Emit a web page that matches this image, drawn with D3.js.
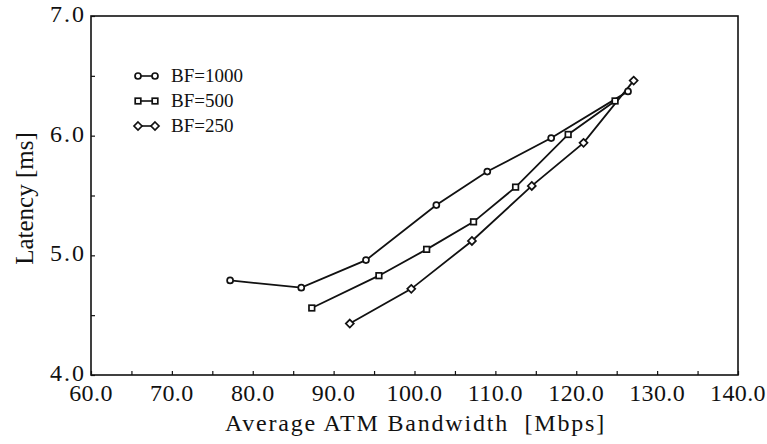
<!DOCTYPE html>
<html>
<head>
<meta charset="utf-8">
<script src="https://cdn.jsdelivr.net/npm/d3@7"></script>
<style>
  html, body { margin: 0; padding: 0; background: #fff; }
  svg { display: block; }
</style>
</head>
<body>
<svg id="chart" width="767" height="444"></svg>
<script>
// Average ATM bandwidth (Mbps) vs latency (ms) for three BF settings
const bf1000Bandwidth = [77.2, 86.0, 94.0, 102.7, 109.0, 116.9, 126.4];
const bf1000Latency   = [4.79, 4.73, 4.96, 5.42, 5.70, 5.98, 6.37];
const bf500Bandwidth  = [87.3, 95.6, 101.5, 107.3, 112.5, 119.0, 124.8];
const bf500Latency    = [4.56, 4.83, 5.05, 5.28, 5.57, 6.01, 6.29];
const bf250Bandwidth  = [92.0, 99.6, 107.1, 114.5, 120.9, 127.1];
const bf250Latency    = [4.43, 4.72, 5.12, 5.58, 5.94, 6.46];

const seriesNames = ["BF=1000", "BF=500", "BF=250"];
const seriesMarkers = ["circle", "square", "diamond"];

const xTickValues = [60, 70, 80, 90, 100, 110, 120, 130, 140];
const yTickValues = [4, 5, 6, 7];
const xMinorTicks = d3.range(60, 140.01, 5);
const yMinorTicks = d3.range(4, 7.01, 0.5);

const xTitle = "Average ATM Bandwidth  [Mbps]";
const yTitle = "Latency [ms]";

const series = [
  { name: seriesNames[0], marker: seriesMarkers[0], xs: bf1000Bandwidth, ys: bf1000Latency },
  { name: seriesNames[1], marker: seriesMarkers[1], xs: bf500Bandwidth,  ys: bf500Latency },
  { name: seriesNames[2], marker: seriesMarkers[2], xs: bf250Bandwidth,  ys: bf250Latency }
];

const INK = "#111";
const W = 767, H = 444;
const margin = { left: 91, top: 16, right: 29, bottom: 69 };
const svg = d3.select("#chart");

const x = d3.scaleLinear().domain([60, 140]).range([margin.left, W - margin.right]);
const y = d3.scaleLinear().domain([4, 7]).range([H - margin.bottom, margin.top]);

function label(sel, size, spacing) {
  return sel.style("font-family", '"Liberation Serif", "Nimbus Roman", serif')
    .style("font-size", size + "px")
    .style("letter-spacing", (spacing || 0) + "px")
    .attr("fill", INK);
}

// frame
svg.append("rect")
  .attr("x", x(60)).attr("y", y(7))
  .attr("width", x(140) - x(60)).attr("height", y(4) - y(7))
  .attr("fill", "none").attr("stroke", INK).attr("stroke-width", 1.6);

// inward ticks
const bottomAxis = d3.axisBottom(x).tickValues(xMinorTicks).tickSize(-4).tickFormat("");
svg.append("g").attr("transform", `translate(0,${y(4)})`).call(bottomAxis)
  .call(g => g.select(".domain").remove())
  .call(g => g.selectAll("line").attr("stroke", INK).attr("stroke-width", 1.2));

const leftAxis = d3.axisLeft(y).tickValues(yMinorTicks).tickSize(-4).tickFormat("");
svg.append("g").attr("transform", `translate(${x(60)},0)`).call(leftAxis)
  .call(g => g.select(".domain").remove())
  .call(g => g.selectAll("line").attr("stroke", INK).attr("stroke-width", 1.2));

// tick labels
svg.append("g").selectAll("text").data(xTickValues).join("text")
  .attr("x", d => x(d)).attr("y", y(4) + 26)
  .attr("text-anchor", "middle").call(label, 24, 0.4)
  .text(d => d3.format(".1f")(d));

svg.append("g").selectAll("text").data(yTickValues).join("text")
  .attr("x", x(60) - 5).attr("y", d => y(d) + 6)
  .attr("text-anchor", "end").call(label, 24, 2)
  .text(d => d3.format(".1f")(d));

// axis titles
svg.append("text")
  .attr("x", x(100) + 1).attr("y", 431)
  .attr("text-anchor", "middle").call(label, 24, 1.8)
  .attr("xml:space", "preserve")
  .text(xTitle);

svg.append("text")
  .attr("transform", `translate(33,${(y(4) + y(7)) / 2 + 3}) rotate(-90)`)
  .attr("text-anchor", "middle").call(label, 25, 0)
  .text(yTitle);

// markers
function drawMarker(g, kind, cx, cy) {
  if (kind === "circle") {
    g.append("circle").attr("cx", cx).attr("cy", cy).attr("r", 3)
      .attr("fill", "#fff").attr("stroke", INK).attr("stroke-width", 1.7);
  } else if (kind === "square") {
    g.append("rect").attr("x", cx - 2.8).attr("y", cy - 2.8).attr("width", 5.6).attr("height", 5.6)
      .attr("fill", "#fff").attr("stroke", INK).attr("stroke-width", 1.7);
  } else {
    const s = 4;
    g.append("path").attr("d", `M${cx},${cy - s}L${cx + s},${cy}L${cx},${cy + s}L${cx - s},${cy}Z`)
      .attr("fill", "#fff").attr("stroke", INK).attr("stroke-width", 1.7);
  }
}

const line = d3.line().x(d => x(d[0])).y(d => y(d[1]));

series.forEach(s => {
  const pts = s.xs.map((v, i) => [v, s.ys[i]]);
  svg.append("path").datum(pts).attr("d", line)
    .attr("fill", "none").attr("stroke", INK).attr("stroke-width", 1.8);
});
series.forEach(s => {
  const g = svg.append("g");
  s.xs.forEach((v, i) => drawMarker(g, s.marker, x(v), y(s.ys[i])));
});

// legend
const legend = svg.append("g");
series.forEach((s, i) => {
  const ly = 76 + i * 25;
  legend.append("line").attr("x1", 138).attr("x2", 155).attr("y1", ly).attr("y2", ly)
    .attr("stroke", INK).attr("stroke-width", 1.6);
  drawMarker(legend, s.marker, 138, ly);
  drawMarker(legend, s.marker, 155, ly);
  legend.append("text").attr("x", 171).attr("y", ly + 6)
    .call(label, 19, 0).text(s.name);
});
</script>
</body>
</html>
